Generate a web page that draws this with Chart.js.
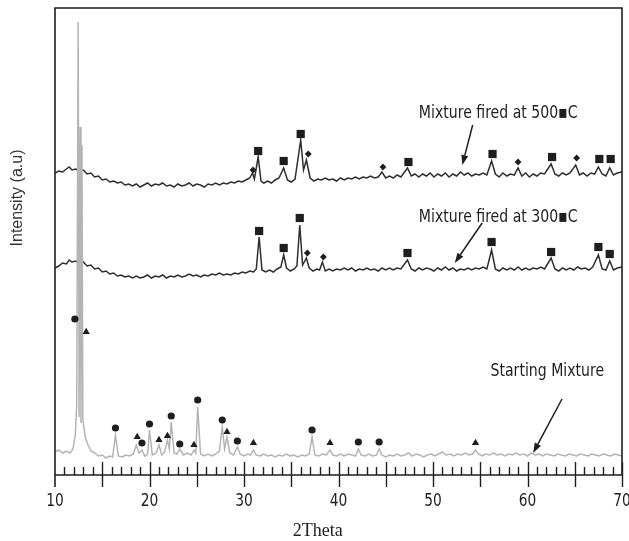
<!DOCTYPE html>
<html>
<head>
<meta charset="utf-8">
<script src="https://cdn.jsdelivr.net/npm/chart.js@4.4.1/dist/chart.umd.min.js"></script>
<style>
  html, body { margin: 0; padding: 0; background: #fff; }
</style>
</head>
<body>
<canvas id="xrd" width="629" height="541"></canvas>
<script>
// XRD patterns, [2theta, intensity (a.u.)]; fired samples carry their stacking offset
const fired500 = [
  [10.0,302],[10.4,304],[10.8,303],[11.2,306],[11.5,308],[11.8,305],[12.2,306],[12.6,304],[13.0,305],[13.4,301],
  [13.8,302],[14.2,298],[14.6,299],[15.0,295],[15.4,296],[15.8,293],[16.2,294],[16.6,292],[17.0,293],[17.4,290],
  [17.8,291],[18.2,289],[18.6,291],[19.0,288],[19.4,290],[19.8,292],[20.2,289],[20.6,291],[21.0,290],[21.4,292],
  [21.8,289],[22.2,290],[22.6,288],[23.0,291],[23.4,289],[23.8,290],[24.2,292],[24.6,289],[25.0,291],[25.4,290],
  [25.8,288],[26.2,291],[26.6,290],[27.0,292],[27.4,290],[27.8,292],[28.2,291],[28.6,293],[29.0,292],[29.4,294],
  [29.8,293],[30.2,295],[30.6,297],[30.9,302],[31.1,296],[31.5,318],[31.8,294],[32.1,292],[32.5,294],[32.9,292],
  [33.3,295],[33.7,297],[34.2,307],[34.6,295],[35.0,293],[35.4,296],[36.0,335],[36.3,305],[36.6,315],[37.0,297],
  [37.4,294],[37.8,296],[38.2,295],[38.6,297],[39.0,295],[39.4,296],[39.8,294],[40.2,297],[40.6,295],[41.0,297],
  [41.4,296],[41.8,298],[42.2,296],[42.6,298],[43.0,297],[43.4,299],[43.8,297],[44.2,298],[44.6,303],[45.0,297],
  [45.4,299],[45.8,297],[46.2,300],[46.6,298],[47.3,307],[47.7,299],[48.1,301],[48.5,298],[48.9,301],[49.3,299],
  [49.7,302],[50.1,298],[50.5,301],[50.9,299],[51.3,302],[51.7,298],[52.1,301],[52.5,299],[52.9,303],[53.3,300],
  [53.7,302],[54.1,299],[54.5,301],[54.9,300],[55.3,302],[55.7,300],[56.2,314],[56.6,301],[57.0,298],[57.4,302],
  [57.8,299],[58.2,301],[58.6,300],[59.0,307],[59.4,299],[59.8,302],[60.2,298],[60.6,301],[61.0,299],[61.4,302],
  [61.8,301],[62.5,311],[62.9,301],[63.3,299],[63.7,302],[64.1,300],[64.5,302],[65.1,310],[65.5,300],[65.9,302],
  [66.3,299],[66.7,302],[67.1,301],[67.5,308],[67.9,301],[68.3,299],[68.7,307],[69.1,300],[69.5,302],[70.0,303]
];

const fired300 = [
  [10.0,207],[10.4,209],[10.8,212],[11.2,211],[11.5,215],[11.8,213],[12.2,214],[12.6,211],[13.0,213],[13.4,209],
  [13.8,210],[14.2,206],[14.6,207],[15.0,203],[15.4,204],[15.8,201],[16.2,202],[16.6,199],[17.0,200],[17.4,198],
  [17.8,199],[18.2,197],[18.6,199],[19.0,197],[19.4,198],[19.8,200],[20.2,197],[20.6,199],[21.0,198],[21.4,200],
  [21.8,197],[22.2,199],[22.6,198],[23.0,200],[23.4,198],[23.8,199],[24.2,201],[24.6,199],[25.0,200],[25.4,198],
  [25.8,200],[26.2,199],[26.6,201],[27.0,200],[27.4,202],[27.8,200],[28.2,201],[28.6,200],[29.0,202],[29.4,201],
  [29.8,203],[30.2,202],[30.6,204],[31.0,203],[31.3,206],[31.6,238],[31.9,205],[32.3,203],[32.7,205],[33.1,203],
  [33.5,206],[33.9,208],[34.2,220],[34.5,207],[34.9,204],[35.3,206],[35.6,209],[35.9,250],[36.2,210],[36.6,217],
  [36.9,207],[37.3,204],[37.7,206],[38.0,205],[38.3,213],[38.6,204],[39.0,206],[39.4,204],[39.8,206],[40.2,205],
  [40.6,207],[41.0,205],[41.4,207],[41.8,204],[42.2,206],[42.6,205],[43.0,207],[43.4,205],[43.8,206],[44.2,204],
  [44.6,207],[45.0,205],[45.4,207],[45.8,205],[46.2,207],[46.6,206],[47.3,215],[47.7,206],[48.1,204],[48.5,207],
  [48.9,205],[49.3,207],[49.7,206],[50.1,204],[50.5,207],[50.9,205],[51.3,208],[51.7,205],[52.1,207],[52.5,204],
  [52.9,206],[53.3,205],[53.7,207],[54.1,205],[54.5,207],[54.9,206],[55.3,208],[55.7,206],[56.2,225],[56.6,206],
  [57.0,204],[57.4,207],[57.8,205],[58.2,207],[58.6,205],[59.0,208],[59.4,205],[59.8,207],[60.2,205],[60.6,207],
  [61.0,206],[61.4,208],[61.8,206],[62.5,217],[62.9,206],[63.3,204],[63.7,207],[64.1,205],[64.5,207],[64.9,205],
  [65.3,208],[65.7,206],[66.1,207],[66.5,205],[66.9,208],[67.5,220],[67.9,206],[68.3,205],[68.7,214],[69.1,205],
  [69.5,207],[70.0,208]
];

const startingMix = [
  [10.0,23],[10.4,25],[10.8,22],[11.2,24],[11.6,22],[11.9,26],[12.15,40],[12.3,70],[12.45,453],[12.55,58],
  [12.65,348],[12.75,52],[12.85,330],[12.95,55],[13.2,38],[13.5,30],[13.8,24],[14.2,22],[14.6,19],[15.0,20],
  [15.4,17],[15.8,19],[16.1,18],[16.4,40],[16.7,19],[17.1,18],[17.5,20],[17.9,19],[18.3,21],[18.6,30],
  [18.9,22],[19.2,25],[19.5,19],[19.8,21],[20.0,45],[20.3,20],[20.7,22],[21.0,30],[21.3,20],[21.6,23],
  [21.9,35],[22.1,26],[22.3,53],[22.6,22],[22.9,21],[23.2,26],[23.6,20],[24.0,22],[24.4,20],[24.7,25],
  [24.9,22],[25.1,68],[25.4,21],[25.8,19],[26.2,21],[26.6,19],[27.0,21],[27.4,24],[27.7,48],[27.95,26],
  [28.2,38],[28.5,22],[28.9,20],[29.3,28],[29.6,21],[30.0,19],[30.4,21],[30.7,20],[31.0,25],[31.3,20],
  [31.7,19],[32.1,21],[32.5,19],[32.9,20],[33.3,18],[33.7,20],[34.1,19],[34.5,21],[34.9,19],[35.3,20],
  [35.7,18],[36.1,20],[36.5,19],[36.9,21],[37.2,38],[37.5,20],[37.9,19],[38.3,21],[38.7,20],[39.1,25],
  [39.4,20],[39.8,19],[40.2,21],[40.6,19],[41.0,21],[41.4,20],[41.8,19],[42.1,26],[42.4,20],[42.8,19],
  [43.2,21],[43.6,19],[44.0,20],[44.3,26],[44.6,20],[45.0,18],[45.4,20],[45.8,19],[46.2,21],[46.6,19],
  [47.0,20],[47.4,22],[47.8,19],[48.2,21],[48.6,20],[49.0,18],[49.4,20],[49.8,21],[50.2,19],[50.6,21],
  [51.0,23],[51.4,20],[51.8,21],[52.2,19],[52.6,21],[53.0,20],[53.4,22],[53.8,20],[54.2,21],[54.5,25],
  [54.8,21],[55.2,19],[55.6,21],[56.0,20],[56.4,22],[56.8,20],[57.2,21],[57.6,19],[58.0,21],[58.4,20],
  [58.8,22],[59.2,20],[59.6,21],[60.0,19],[60.4,22],[60.8,20],[61.2,21],[61.6,19],[62.0,21],[62.4,20],
  [62.8,19],[63.2,21],[63.6,20],[64.0,19],[64.4,21],[64.8,20],[65.2,19],[65.6,21],[66.0,20],[66.4,19],
  [66.8,21],[67.2,20],[67.6,19],[68.0,21],[68.4,20],[68.8,19],[69.2,21],[69.6,20],[70.0,19]
];

// phase symbols set above the reflections
const circlePeaks = [[12.1,156],[16.4,47],[19.2,32],[20.0,51],[22.3,59],[23.2,31],[25.1,75],[27.7,55],
  [29.3,34],[37.2,45],[42.1,33],[44.3,33]];
const trianglePeaks = [[13.3,143],[18.7,38],[21.0,35],[21.9,39],[24.7,30],[28.2,43],[31.0,32],[39.1,32],[54.5,32]];
const squarePeaks = [[31.5,324],[34.2,314],[36.0,341],[47.4,313],[56.3,321],[62.6,318],[67.6,316],[68.8,316],
  [31.6,244],[34.2,227],[35.9,257],[47.3,222],[56.2,233],[62.5,223],[67.5,228],[68.7,221]];
const diamondPeaks = [[30.95,305],[36.8,321],[44.7,308],[59.0,313],[65.2,317],[36.7,222],[38.4,218]];

const xTickLabels = [10, 20, 30, 40, 50, 60, 70];

// curve captions and their arrows, in data units
const captions = ['Mixture fired at 500\u25AAC', 'Mixture fired at 300\u25AAC', 'Starting Mixture'];
const captionAt = [[56.9, 362], [56.9, 258], [62.1, 104]];
const arrowFrom = [[54.2, 350], [55.2, 252], [63.65, 76]];
const arrowTo = [[53.1, 310], [52.3, 212], [60.6, 22]];

const toXY = arr => arr.map(p => ({ x: p[0], y: p[1] }));
const INK = '#1e1e1e';
const NARROW = '"DejaVu Sans Condensed", "Liberation Sans", sans-serif';

function traceSet(label, pts, color, order) {
  return {
    label, data: toXY(pts), showLine: true, borderColor: color, borderWidth: 1.5,
    pointRadius: 0, tension: 0, order
  };
}

function markerSet(label, pts, style, radius) {
  return {
    label, data: toXY(pts), showLine: false, pointStyle: style, pointRadius: radius,
    backgroundColor: INK, borderColor: INK, borderWidth: 0, order: 0
  };
}

// squeezed text, the labels are set in a narrow face
function narrowText(ctx, text, cx, cy, sx) {
  ctx.save();
  ctx.translate(cx, cy);
  ctx.scale(sx, 1);
  ctx.fillText(text, 0, 0);
  ctx.restore();
}

const xrdDecor = {
  id: 'xrdDecor',
  afterDatasetsDraw(chart) {
    const { ctx, chartArea: a, scales: { x, y } } = chart;
    ctx.save();

    // frame
    ctx.strokeStyle = INK;
    ctx.lineWidth = 1.6;
    ctx.beginPath();
    ctx.moveTo(a.left, a.bottom + 12);
    ctx.lineTo(a.left, a.top);
    ctx.lineTo(a.right, a.top);
    ctx.lineTo(a.right, a.bottom);
    ctx.lineTo(a.left, a.bottom);
    ctx.stroke();

    // major ticks cross the axis, minor ones point inward
    ctx.lineWidth = 1.4;
    for (let t = 11; t <= 70; t++) {
      const px = Math.round(x.getPixelForValue(t)) + 0.5;
      ctx.beginPath();
      if (t % 5 === 0) {
        ctx.moveTo(px, a.bottom - 13);
        ctx.lineTo(px, a.bottom + 12);
      } else {
        ctx.moveTo(px, a.bottom - 8);
        ctx.lineTo(px, a.bottom);
      }
      ctx.stroke();
    }

    ctx.fillStyle = INK;
    ctx.textAlign = 'center';
    ctx.textBaseline = 'middle';
    ctx.font = '18px ' + NARROW;
    xTickLabels.forEach(v => narrowText(ctx, String(v), x.getPixelForValue(v), a.bottom + 26, 0.85));

    ctx.font = '18px "Liberation Serif", "Times New Roman", serif';
    ctx.fillText('2Theta', x.getPixelForValue(37.8), a.bottom + 56);

    ctx.save();
    ctx.fillStyle = '#333';
    ctx.font = '16px "Liberation Sans", Arial, sans-serif';
    ctx.translate(a.left - 37, y.getPixelForValue(277));
    ctx.rotate(-Math.PI / 2);
    ctx.fillText('Intensity (a.u)', 0, 0);
    ctx.restore();

    // captions
    ctx.font = '18px ' + NARROW;
    captions.forEach((c, i) => {
      narrowText(ctx, c, x.getPixelForValue(captionAt[i][0]), y.getPixelForValue(captionAt[i][1]), 0.87);
    });

    // arrows
    ctx.lineWidth = 1.5;
    arrowFrom.forEach((f, i) => {
      const x0 = x.getPixelForValue(f[0]), y0 = y.getPixelForValue(f[1]);
      const x1 = x.getPixelForValue(arrowTo[i][0]), y1 = y.getPixelForValue(arrowTo[i][1]);
      const ang = Math.atan2(y1 - y0, x1 - x0);
      const head = 10, half = 3.5;
      const bx = x1 - head * Math.cos(ang), by = y1 - head * Math.sin(ang);
      ctx.beginPath();
      ctx.moveTo(x0, y0);
      ctx.lineTo(bx, by);
      ctx.stroke();
      ctx.beginPath();
      ctx.moveTo(x1, y1);
      ctx.lineTo(bx + half * Math.sin(ang), by - half * Math.cos(ang));
      ctx.lineTo(bx - half * Math.sin(ang), by + half * Math.cos(ang));
      ctx.closePath();
      ctx.fill();
    });

    ctx.restore();
  }
};

new Chart(document.getElementById('xrd'), {
  type: 'scatter',
  data: {
    datasets: [
      markerSet('circles', circlePeaks, 'circle', 3.6),
      markerSet('triangles', trianglePeaks, 'triangle', 4.2),
      markerSet('squares', squarePeaks, 'rect', 5.8),
      markerSet('diamonds', diamondPeaks, 'rectRot', 3.4),
      traceSet('Starting Mixture', startingMix, '#b4b4b4', 1),
      traceSet('Mixture fired at 300 C', fired300, '#2e2e2e', 2),
      traceSet('Mixture fired at 500 C', fired500, '#2e2e2e', 2)
    ]
  },
  options: {
    responsive: false,
    animation: false,
    layout: { padding: { left: 55, right: 7, top: 8, bottom: 66 } },
    scales: {
      x: { type: 'linear', min: 10, max: 70, display: false },
      y: { min: 0, max: 467, display: false }
    },
    plugins: { legend: { display: false }, tooltip: { enabled: false } }
  },
  plugins: [xrdDecor]
});
</script>
</body>
</html>
